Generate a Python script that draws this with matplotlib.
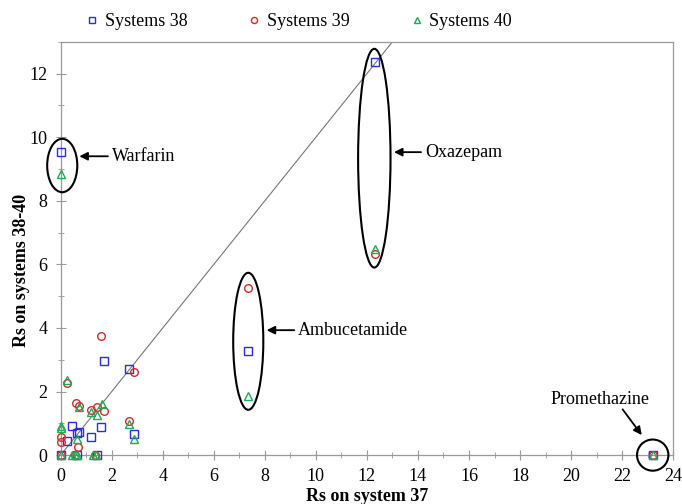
import matplotlib
matplotlib.use('Agg')
import matplotlib.pyplot as plt
from matplotlib.patches import Ellipse
from matplotlib.ticker import MultipleLocator

# Resolution values
x38 = [0, 0.24, 0.45, 0.63, 0.71, 0.65, 1.19, 1.43, 1.58, 1.70, 2.69, 2.88,
       0, 12.32, 7.35, 23.2]
y38 = [0, 0.44, 0.92, 0.68, 0.72, 0, 0.56, 0, 0.87, 2.95, 2.70, 0.66,
       9.55, 12.36, 3.28, 0]

x39 = [0, 0, 0, 0.26, 0.55, 0.61, 0.72, 0.69, 1.20, 1.33, 1.41, 1.58, 1.70,
       2.69, 2.88, 12.32, 7.35, 23.2]
y39 = [0, 0.56, 0.42, 2.28, 0, 1.65, 1.55, 0.24, 1.41, 0, 1.50, 3.74, 1.39,
       1.08, 2.60, 6.34, 5.26, 0]

x40 = [0, 0, 0, 0.26, 0.45, 0.55, 0.63, 0.65, 0.72, 1.20, 1.28, 1.38, 1.41,
       1.61, 2.69, 2.88, 0, 12.32, 7.35, 23.2]
y40 = [0, 0.84, 0.91, 2.35, 0, 0, 0.52, 0, 1.52, 1.36, 0, 0, 1.26,
       1.62, 0.97, 0.50, 8.83, 6.47, 1.85, 0]

# Highlighted compounds: (name, ellipse center, width, height, arrow head, text pos)
compounds = [
    ('Warfarin', (0.06, 9.11), 1.18, 1.68, (0.73, 9.40), (2.0, 9.40)),
    ('Oxazepam', (12.29, 9.34), 1.27, 6.88, (13.06, 9.53), (14.27, 9.53)),
    ('Ambucetamide', (7.35, 3.58), 1.18, 4.31, (8.07, 3.93), (9.3, 3.93)),
]

plt.rcParams['font.family'] = ['Liberation Serif', 'DejaVu Serif']

fig = plt.figure(figsize=(6.82, 5.04), dpi=100)
ax = fig.add_axes([0.089, 0.097, 0.898, 0.820])

blue = '#2b2bef'
red = '#d42a2a'
green = '#1faa55'

ax.plot([0, 14], [0, 14], color='#777777', lw=0.8, zorder=1)

ax.plot(x38, y38, 's', mfc='none', mec=blue, ms=5.5, mew=1, label='Systems 38',
        zorder=3, clip_on=False)
ax.plot(x39, y39, 'o', mfc='none', mec=red, ms=5.5, mew=1, label='Systems 39',
        zorder=3, clip_on=False)
ax.plot(x40, y40, '^', mfc='none', mec=green, ms=5.5, mew=1, label='Systems 40',
        zorder=3, clip_on=False)

for name, c, w, h, head, txt in compounds:
    ax.add_patch(Ellipse(c, w, h, fill=False, ec='black', lw=1.5, zorder=4,
                         clip_on=False))
    ax.annotate('', xy=head, xytext=(txt[0] - 0.15, txt[1]),
                arrowprops=dict(arrowstyle='-|>', color='black', lw=1.3,
                                mutation_scale=12, shrinkA=0, shrinkB=0))
    ax.text(txt[0], txt[1], name, fontsize=13, va='center', ha='left')

# Promethazine
ax.add_patch(Ellipse((23.2, 0), 1.23, 0.98, fill=False, ec='black', lw=1.5,
                     zorder=4, clip_on=False))
ax.annotate('', xy=(22.77, 0.63), xytext=(22.02, 1.44),
            arrowprops=dict(arrowstyle='-|>', color='black', lw=1.3,
                            mutation_scale=12, shrinkA=0, shrinkB=0))
ax.text(21.13, 1.75, 'Promethazine', fontsize=13, ha='center', va='center')

ax.set_xlim(0, 24)
ax.set_ylim(0, 13)
ax.xaxis.set_major_locator(MultipleLocator(2))
ax.xaxis.set_minor_locator(MultipleLocator(1))
ax.yaxis.set_major_locator(MultipleLocator(2))
ax.yaxis.set_minor_locator(MultipleLocator(1))
ax.tick_params(which='both', direction='inout', color='#999999',
               labelsize=13, pad=6)
ax.tick_params(which='major', length=7)
ax.tick_params(which='minor', length=5)
for s in ax.spines.values():
    s.set_color('#999999')
    s.set_linewidth(0.9)

ax.set_xlabel('Rs on system 37', fontsize=13, fontweight='bold', labelpad=2)
ax.set_ylabel('Rs on systems 38-40', fontsize=13, fontweight='bold')
ax.yaxis.set_label_coords(-0.05, 0.448)

ax.legend(loc='lower left', bbox_to_anchor=(0.031, 1.01), ncol=3, frameon=False,
          fontsize=13, markerscale=0.8, handlelength=0.6, handletextpad=0.4,
          columnspacing=3.4, borderaxespad=0)

fig.savefig('out.png', dpi=100)
